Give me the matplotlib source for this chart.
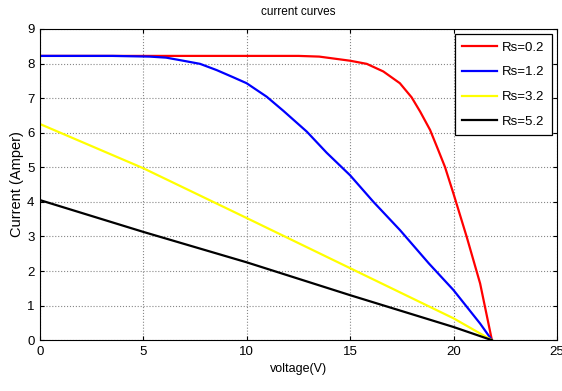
import numpy as np
import matplotlib.pyplot as plt

plt.rcParams['font.family'] = ['Liberation Sans', 'DejaVu Sans']

# values
v_red = [0, 5, 10, 12.5, 13.5, 15.0, 15.8, 16.6, 17.4, 17.97, 18.38, 18.86, 19.22, 19.58,
         19.99, 20.63, 21.28, 21.85]
i_red = [8.22, 8.22, 8.22, 8.22, 8.2, 8.08, 7.99, 7.77, 7.43, 7.02, 6.61, 6.08, 5.55, 5.01,
         4.24, 2.99, 1.64, 0.0]

v_blue = [0, 3.5, 5.3, 6.1, 6.93, 7.74, 8.54, 9.35, 9.99, 10.96, 11.77, 12.9, 13.86, 14.99,
          16.12, 17.41, 18.8, 19.99, 21.28, 21.85]
i_blue = [8.22, 8.22, 8.2, 8.17, 8.08, 7.99, 7.81, 7.6, 7.43, 7.04, 6.63, 6.03, 5.42, 4.77,
          4.0, 3.18, 2.22, 1.45, 0.48, 0.0]

v_yellow = [0, 5, 10, 15, 20, 21.85]
i_yellow = [6.25, 4.97, 3.53, 2.08, 0.63, 0.0]

v_black = [0, 5, 10, 15, 20, 21.85]
i_black = [4.05, 3.13, 2.25, 1.3, 0.38, 0.0]

labels = ['Rs=0.2', 'Rs=1.2', 'Rs=3.2', 'Rs=5.2']
colors = ['red', 'blue', 'yellow', 'black']

fig = plt.figure(figsize=(5.62, 3.91), dpi=100)
ax = fig.add_axes([0.0712, 0.130, 0.92, 0.796])

curves = [(v_red, i_red), (v_blue, i_blue), (v_yellow, i_yellow), (v_black, i_black)]
for (v, i), c, lab in zip(curves, colors, labels):
    ax.plot(v, i, color=c, lw=1.6, label=lab)

ax.set_xlim(0, 25)
ax.set_ylim(0, 9)
ax.set_xticks(np.arange(0, 26, 5))
ax.set_yticks(np.arange(0, 10, 1))
ax.grid(True, color='#888888', linestyle=':', linewidth=0.8)
ax.tick_params(direction='in', top=True, right=True, labelsize=9.5, length=3, pad=4)
for s in ax.spines.values():
    s.set_linewidth(0.8)

ax.set_title('current curves', fontsize=8.5, pad=10)
ax.set_xlabel('voltage(V)', fontsize=9, labelpad=4)
ax.set_ylabel('Current (Amper)', fontsize=10.5, labelpad=2)

leg = ax.legend(loc='upper right', fontsize=9.5, fancybox=False, framealpha=1,
                edgecolor='black', handlelength=2.7, handletextpad=0.35,
                borderaxespad=0.4, labelspacing=0.95, borderpad=0.55)
leg.get_frame().set_linewidth(0.9)

fig.savefig('out.png', dpi=100)
